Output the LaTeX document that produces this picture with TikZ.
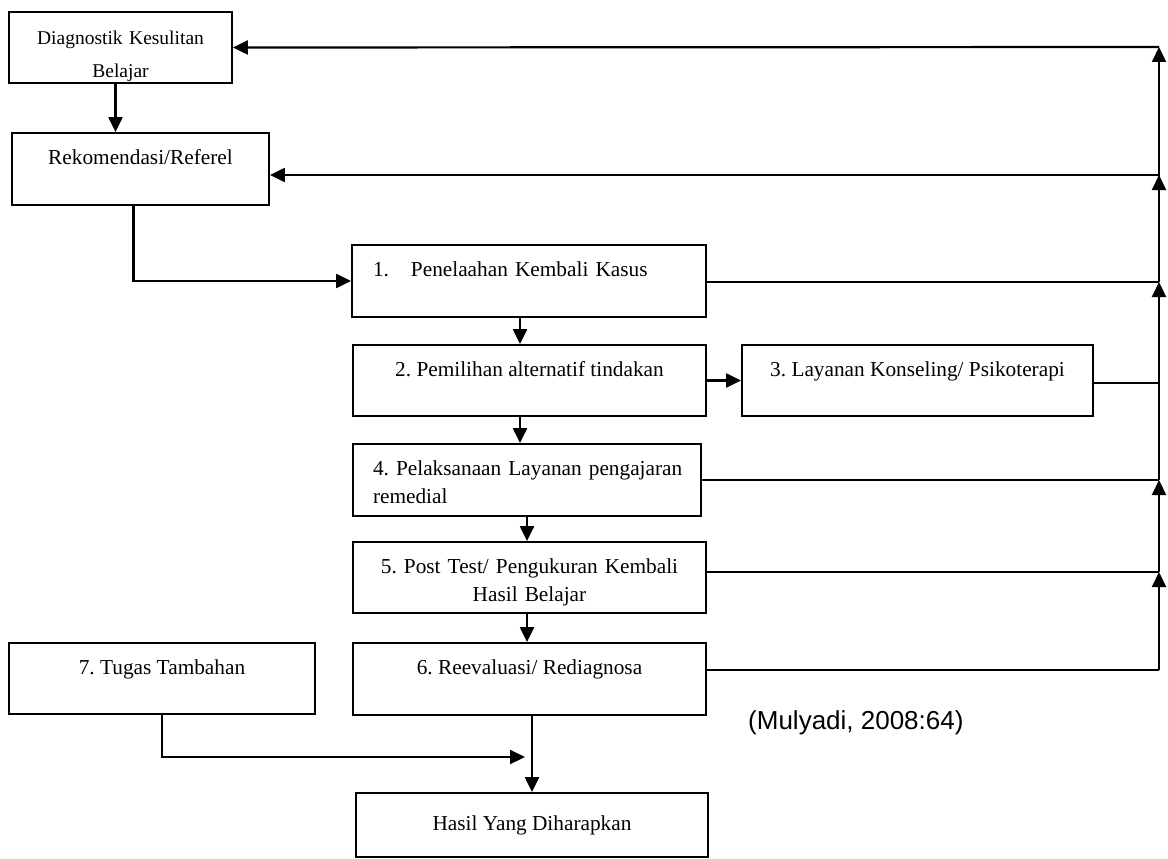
\documentclass[tikz,border=0pt]{standalone}
\usepackage{fontspec}
\setmainfont{Liberation Serif}
\newfontfamily\citefont{Liberation Sans}
\usetikzlibrary{arrows.meta}
\frenchspacing

\tikzset{
  box/.style={draw, line width=1.8pt, inner sep=0pt, align=center,
    font=\fontsize{21.3}{28}\selectfont},
  oneline/.style={text height=15pt, text depth=24pt},
  arr/.style={line width=2.2pt, -{Triangle[length=15pt,width=14pt]}},
  ln/.style={line width=1.8pt},
}

\begin{document}
\begin{tikzpicture}[x=1pt,y=-1pt]
    \useasboundingbox (0,0) rectangle (1168,859);

    % left column
    \node[box, minimum width=223pt, minimum height=71pt, text width=205pt, text height=15pt, text depth=20pt,
      font=\fontsize{19.5}{33}\selectfont] (diag) at (120.5,47.5) {Diagnostik Kesulitan\\Belajar};
    \node[box, oneline, minimum width=257pt, minimum height=72pt] (rek) at (140.5,169) {Rekomendasi/Referel};

    % middle column
    \node[box, oneline, minimum width=354pt, minimum height=72pt, align=left, text width=312pt] (b1) at (529,281) {1.\hspace{22pt}Penelaahan Kembali Kasus};
    \node[box, oneline, minimum width=353pt, minimum height=71pt] (b2) at (529.5,380.5) {2. Pemilihan alternatif tindakan};
    \node[box, oneline, minimum width=351pt, minimum height=71pt] (b3) at (917.5,380.5) {3. Layanan Konseling/ Psikoterapi};
    \node[box, minimum width=348pt, minimum height=72pt, text height=15pt, text depth=25pt,
      align=left, text width=308pt] (b4) at (527,480) {\mbox{4. Pelaksanaan Layanan pengajaran}\\remedial};
    \node[box, oneline, minimum width=353pt, minimum height=71pt, text width=330pt] (b5) at (529.5,577.5) {5. Post Test/ Pengukuran Kembali\\Hasil Belajar};
    \node[box, oneline, minimum width=353pt, minimum height=72pt] (b6) at (529.5,679) {6. Reevaluasi/ Rediagnosa};
    \node[box, oneline, minimum width=306pt, minimum height=71pt] (b7) at (162,678.5) {7. Tugas Tambahan};
    \node[box, minimum width=352pt, minimum height=64pt] (hasil) at (532,825) {Hasil Yang Diharapkan};

    \node[font=\citefont\fontsize{26}{30}\selectfont, anchor=base west, inner sep=0pt] (cite) at (748,729) {(Mulyadi, 2008:64)};

    % return line on the right
    \coordinate (r6) at (1159,670);
    \coordinate (r5) at (1159,572);
    \coordinate (r4) at (1159,480);
    \coordinate (r3) at (1159,383);
    \coordinate (r1) at (1159,282);
    \coordinate (rr) at (1159,175);
    \coordinate (rd) at (1159,47);
    \coordinate (join) at (525,757);

    % downward flow
    \draw[arr] ([xshift=-5pt]diag.south) -- ([xshift=-5pt]diag.south |- rek.north);
    \draw[arr] ([xshift=-7pt]rek.south) |- (b1.west);
    \draw[arr] ([xshift=-9pt]b1.south) -- ([xshift=-9pt]b1.south |- b2.north);
    \draw[arr] ([xshift=-9.5pt]b2.south) -- ([xshift=-9.5pt]b2.south |- b4.north);
    \draw[arr] (b4.south) -- (b4.south |- b5.north);
    \draw[arr] ([xshift=-2.5pt]b5.south) -- ([xshift=-2.5pt]b5.south |- b6.north);
    \draw[arr] (hasil.north |- b6.south) -- (hasil.north);
    \draw[arr] (b2.east) -- (b3.west);
    \draw[arr] (b7.south) |- (join);

    % feedback
    \draw[ln] (r6 -| b6.east) -- (r6);
    \draw[ln] (r5 -| b5.east) -- (r5);
    \draw[ln] (r4 -| b4.east) -- (r4);
    \draw[ln] (r3 -| b3.east) -- (r3);
    \draw[ln] (r1 -| b1.east) -- (r1);
    \draw[arr] (r6) -- (r5);
    \draw[arr] (r5) -- (r4);
    \draw[arr] (r4) -- (r1);
    \draw[arr] (r1) -- (rr);
    \draw[arr] ([yshift=-6pt]rr) -- (rd);
    \draw[arr] (rr) -- (rr -| rek.east);
    \draw[arr] (rd) -- (diag.east);
\end{tikzpicture}
\end{document}
